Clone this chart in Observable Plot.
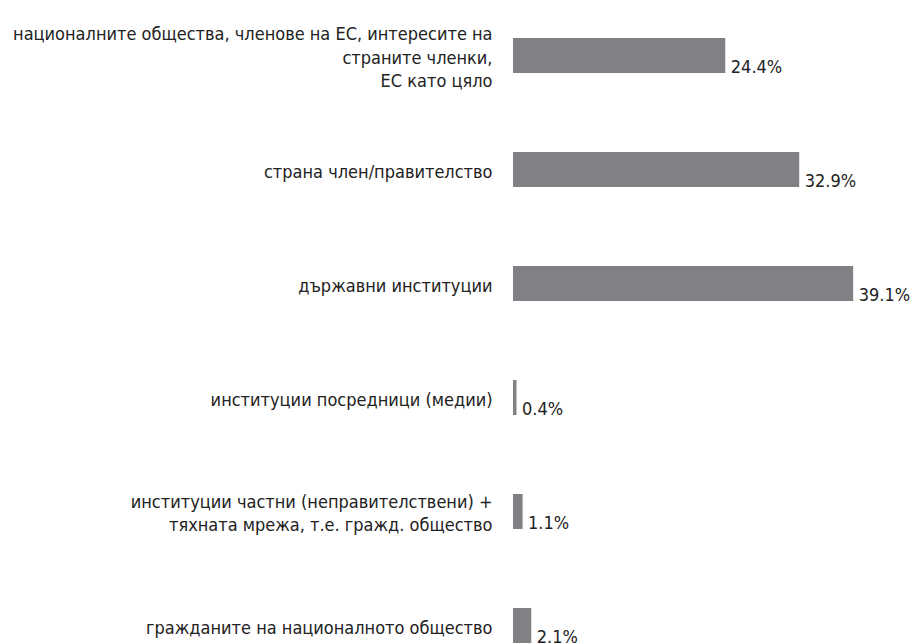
<!DOCTYPE html>
<html>
<head>
<meta charset="utf-8">
<script src="https://cdn.jsdelivr.net/npm/d3@7"></script>
<script src="https://cdn.jsdelivr.net/npm/@observablehq/plot@0.6"></script>
<style>
  html, body { margin: 0; padding: 0; background: #fff; }
  #chart svg { display: block; }
</style>
</head>
<body>
<div id="chart"></div>
<script>
const categories = [
  "националните общества, членове на ЕС, интересите на\nстраните членки,\nЕС като цяло",
  "страна член/правителство",
  "държавни институции",
  "институции посредници (медии)",
  "институции частни (неправителствени) +\nтяхната мрежа, т.е. гражд. общество",
  "гражданите на националното общество"
];
const values = [24.4, 32.9, 39.1, 0.4, 1.1, 2.1];
const valueLabels = ["24.4%", "32.9%", "39.1%", "0.4%", "1.1%", "2.1%"];

const data = categories.map((c, i) => ({category: c, value: values[i], label: valueLabels[i]}));

const font = "'Liberation Sans Narrow', 'DejaVu Sans Condensed', 'Roboto', sans-serif";

const chart = Plot.plot({
  width: 913,
  height: 644,
  marginLeft: 513,
  marginRight: 52,
  marginTop: 0,
  marginBottom: 0,
  style: {fontFamily: font, background: "#fff", color: "#222"},
  x: {domain: [0, 40], axis: null},
  y: {domain: categories, range: [-4, 685], paddingInner: 0.69, paddingOuter: 0.345, axis: null},
  marks: [
    Plot.barX(data, {x: "value", y: "category", fill: "#808085"}),
    Plot.text(data, {
      x: 0, y: "category", text: "category",
      dx: -21, textAnchor: "end", lineAnchor: "middle", lineHeight: 1.3,
      fontSize: 18, fill: "#222"
    }),
    Plot.text(data, {
      x: "value", y: "category", text: "label",
      dx: 5, dy: 17, textAnchor: "start", lineAnchor: "bottom",
      fontSize: 18, fill: "#222"
    })
  ]
});
document.getElementById("chart").appendChild(chart);
</script>
</body>
</html>
